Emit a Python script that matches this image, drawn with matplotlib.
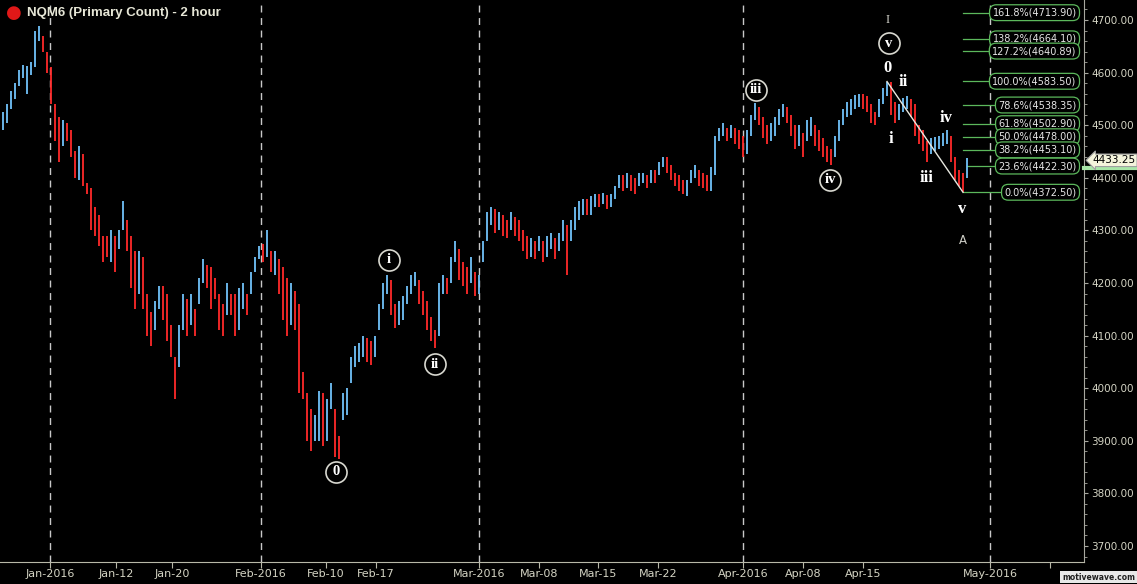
import numpy as np
import matplotlib
matplotlib.use("Agg")
import matplotlib.pyplot as plt
import matplotlib.transforms as mtransforms
from matplotlib.ticker import MultipleLocator, FuncFormatter

close = [4510, 4525, 4555, 4570, 4595, 4600, 4605, 4615, 4665, 4680,
         4660, 4620, 4560, 4500, 4470, 4495, 4480, 4455, 4430, 4440,
         4420, 4380, 4340, 4330, 4300, 4270, 4265, 4285, 4250, 4290,
         4345, 4300, 4230, 4190, 4240, 4190, 4130, 4120, 4140, 4180,
         4170, 4130, 4090, 4030, 4100, 4150, 4130, 4150, 4120, 4190,
         4225, 4220, 4195, 4190, 4150, 4130, 4170, 4160, 4130, 4150,
         4180, 4160, 4200, 4240, 4260, 4250, 4270, 4230, 4240, 4200,
         4180, 4140, 4170, 4160, 4020, 4000, 3920, 3900, 3930, 3970,
         3925, 3950, 3990, 3900, 3880, 3960, 3990, 4040, 4060, 4070,
         4085, 4075, 4060, 4080, 4140, 4190, 4200, 4160, 4130, 4140,
         4150, 4180, 4200, 4210, 4175, 4160, 4130, 4110, 4085, 4180,
         4200, 4195, 4230, 4270, 4230, 4220, 4200, 4230, 4190, 4200,
         4260, 4320, 4330, 4310, 4320, 4310, 4300, 4320, 4305, 4295,
         4280, 4260, 4270, 4260, 4275, 4250, 4270, 4280, 4260, 4280,
         4300, 4250, 4300, 4330, 4340, 4345, 4340, 4345, 4360, 4355,
         4365, 4350, 4360, 4375, 4395, 4385, 4395, 4390, 4380, 4395,
         4400, 4390, 4405, 4400, 4420, 4430, 4425, 4410, 4395, 4390,
         4380, 4385, 4405, 4410, 4400, 4395, 4390, 4410, 4470, 4485,
         4495, 4480, 4490, 4480, 4470, 4460, 4470, 4510, 4530, 4520,
         4490, 4480, 4490, 4500, 4520, 4530, 4525, 4500, 4470, 4480,
         4460, 4490, 4505, 4480, 4470, 4455, 4445, 4435, 4470, 4500,
         4520, 4530, 4540, 4545, 4550, 4545, 4540, 4520, 4510, 4540,
         4560, 4575, 4540, 4520, 4530, 4540, 4545, 4530, 4520, 4480,
         4465, 4445, 4460, 4465, 4470, 4475, 4480, 4450, 4410, 4400,
         4380, 4433.25]
high = [4525, 4540, 4565, 4580, 4605, 4615, 4612, 4620, 4680, 4689,
        4670, 4640, 4610, 4540, 4515, 4510, 4505, 4490, 4450, 4460,
        4445, 4390, 4380, 4345, 4330, 4290, 4290, 4300, 4290, 4300,
        4355, 4320, 4290, 4260, 4260, 4250, 4180, 4145, 4165, 4195,
        4195, 4180, 4120, 4060, 4120, 4180, 4170, 4180, 4150, 4210,
        4245, 4235, 4230, 4210, 4180, 4160, 4200, 4180, 4180, 4190,
        4200, 4180, 4220, 4250, 4270, 4275, 4300, 4260, 4260, 4245,
        4230, 4210, 4200, 4185, 4160, 4030, 3990, 3960, 3950, 3995,
        3990, 3980, 4010, 3960, 3910, 3990, 4000, 4060, 4080, 4085,
        4100, 4095, 4090, 4100, 4160, 4200, 4215, 4205, 4160, 4165,
        4175, 4195, 4215, 4220, 4205, 4185, 4165, 4135, 4110, 4200,
        4215, 4210, 4250, 4280, 4265, 4240, 4230, 4250, 4220, 4215,
        4280, 4335, 4345, 4340, 4335, 4330, 4320, 4335, 4325, 4320,
        4300, 4290, 4285, 4280, 4290, 4280, 4290, 4295, 4285, 4295,
        4320, 4310, 4320, 4345, 4355, 4360, 4360, 4365, 4370, 4370,
        4372, 4368, 4370, 4385, 4405, 4405, 4410, 4405, 4400, 4410,
        4410, 4405, 4415, 4415, 4430, 4440, 4440, 4425, 4410, 4405,
        4395, 4395, 4415, 4425, 4415, 4410, 4405, 4420, 4480, 4495,
        4505, 4495, 4500, 4495, 4490, 4480, 4490, 4520, 4542, 4535,
        4515, 4500, 4505, 4515, 4530, 4540, 4535, 4520, 4500, 4500,
        4485, 4510, 4515, 4500, 4490, 4475, 4460, 4455, 4480, 4510,
        4530, 4545, 4550, 4558, 4560, 4560, 4555, 4540, 4525, 4550,
        4570, 4583, 4583, 4545, 4540, 4552, 4555, 4550, 4540, 4500,
        4490, 4470, 4475, 4478, 4480, 4485, 4490, 4480, 4440, 4415,
        4410, 4438]
low = [4490, 4505, 4530, 4550, 4575, 4590, 4560, 4595, 4610, 4660,
       4640, 4600, 4540, 4470, 4430, 4460, 4470, 4440, 4400, 4395,
       4385, 4370, 4300, 4290, 4270, 4240, 4250, 4240, 4220, 4265,
       4300, 4260, 4190, 4150, 4180, 4150, 4100, 4080, 4110, 4150,
       4130, 4090, 4060, 3980, 4040, 4110, 4100, 4120, 4100, 4160,
       4200, 4190, 4150, 4170, 4110, 4100, 4140, 4140, 4100, 4110,
       4150, 4140, 4180, 4220, 4245, 4240, 4250, 4220, 4215, 4180,
       4130, 4100, 4120, 4110, 3990, 3980, 3900, 3880, 3900, 3900,
       3890, 3900, 3960, 3870, 3865, 3940, 3950, 4010, 4040, 4050,
       4060, 4050, 4045, 4060, 4110, 4150, 4180, 4140, 4115, 4120,
       4130, 4160, 4180, 4195, 4160, 4140, 4110, 4090, 4077, 4100,
       4180, 4180, 4200, 4240, 4205, 4195, 4180, 4200, 4175, 4180,
       4240, 4280, 4310, 4295, 4300, 4290, 4285, 4300, 4290, 4280,
       4260, 4245, 4250, 4245, 4260, 4240, 4250, 4265, 4245, 4260,
       4280, 4215, 4280, 4300, 4320, 4330, 4330, 4330, 4345, 4345,
       4350, 4340, 4345, 4360, 4380, 4375, 4380, 4375, 4370, 4385,
       4390, 4380, 4390, 4390, 4405, 4420, 4410, 4395, 4385, 4375,
       4370, 4365, 4390, 4400, 4385, 4380, 4375, 4375, 4405, 4470,
       4480, 4470, 4475, 4465, 4455, 4440, 4445, 4480, 4510, 4500,
       4475, 4465, 4470, 4480, 4500, 4515, 4505, 4480, 4455, 4460,
       4440, 4470, 4480, 4460, 4450, 4440, 4430, 4424, 4440, 4470,
       4500, 4515, 4520, 4530, 4535, 4530, 4525, 4505, 4500, 4515,
       4540, 4555, 4520, 4505, 4510, 4525, 4530, 4515, 4480, 4465,
       4450, 4430, 4445, 4450, 4455, 4460, 4465, 4430, 4395, 4385,
       4372.5, 4400]

# date axis (bar index units)
tick_pos = [11.75, 28.25, 42.25, 64.5, 80.75, 93.25, 119, 134, 148.75,
            163.75, 185, 200, 215, 246.75, 261.75]
tick_labels = ["Jan-2016", "Jan-12", "Jan-20", "Feb-2016", "Feb-10", "Feb-17",
               "Mar-2016", "Mar-08", "Mar-15", "Mar-22", "Apr-2016", "Apr-08",
               "Apr-15", "May-2016", ""]
month_starts = [11.75, 64.5, 119, 185, 246.75]

# fibonacci retracement levels
fib_pct = ["161.8%", "138.2%", "127.2%", "100.0%", "78.6%", "61.8%",
           "50.0%", "38.2%", "23.6%", "0.0%"]
fib_price = [4713.90, 4664.10, 4640.89, 4583.50, 4538.35, 4502.90,
             4478.00, 4453.10, 4422.30, 4372.50]

# wave labels (text, bar index, price)
circled = [("0", 83.25, 3841), ("i", 96.5, 4244), ("ii", 108, 4046),
           ("iii", 188.25, 4567), ("iv", 206.75, 4396), ("v", 221.5, 4656)]
minor_waves = [("0", 221.25, 4609), ("ii", 225, 4582), ("i", 222, 4474),
               ("iii", 231, 4400), ("iv", 235.75, 4514), ("v", 239.75, 4341)]
last_price = 4433.25

BLUE = "#72c2fa"
RED = "#ff2a2a"
FG = "#d4d4c4"
GREEN = "#5cb85c"

# ==================== figure ====================
fig = plt.figure(figsize=(11.37, 5.84), dpi=100, facecolor="black")
ax = fig.add_axes([0, 22 / 584, 1084 / 1137, 562 / 584], facecolor="black")

n = len(close)
idx = np.arange(n)
c = np.array(close, dtype=float)
o = np.concatenate([[c[0]], c[:-1]])
h = np.array(high, dtype=float)
l = np.array(low, dtype=float)
cols = np.where(c >= o, BLUE, RED)

ax.vlines(idx, l, h, colors=cols, linewidth=1.3, zorder=3)

# month separators
for m in month_starts:
    ax.axvline(m, color="#c8c8c8", lw=1, ls=(0, (5, 4)), zorder=1)

# wave line from top to bottom of the last decline
pk = 200 + int(np.argmax(h[200:]))
tr = pk + int(np.argmin(l[pk:]))
ax.plot([pk, tr], [h[pk], l[tr]], color="#e8e8e0", lw=1, zorder=4)

# fib levels
for pct, pr in zip(fib_pct, fib_price):
    start = tr + 1 if pct == "23.6%" else tr
    ax.plot([start, 266], [pr, pr], color=GREEN, lw=0.9, zorder=2)
    ax.text(268.4, pr, f"{pct}({pr:.2f})", ha="right", va="center",
            fontsize=7, color="#e6e6e6", zorder=6,
            bbox=dict(boxstyle="round,pad=0.3,rounding_size=0.7",
                      fc="black", ec=GREEN, lw=0.9))

# circled wave labels
for txt, xi, yi in circled:
    ax.scatter([xi], [yi], s=230, facecolor="black", edgecolor="#d8d8d0",
               linewidth=1.2, zorder=7)
    ax.text(xi, yi, txt, ha="center", va="center", fontsize=10.5,
            family="Liberation Serif", weight="bold", color="white", zorder=8)

for txt, xi, yi in minor_waves:
    ax.text(xi, yi, txt, ha="center", va="center", fontsize=12,
            family="Liberation Serif", weight="bold", color="white", zorder=8)

ax.text(221.25, 4700, "I", ha="center", va="center", fontsize=9,
        family="Liberation Serif", color="#d8d8d0")
ax.text(240, 4280, "A", ha="center", va="center", fontsize=8.5,
        color="#d0d0c8")

# axes formatting
ax.set_xlim(-0.75, 270.25)
ax.set_ylim(3669.6, 4738)

for s in ["top", "left"]:
    ax.spines[s].set_visible(False)
ax.spines["bottom"].set_color("#b8b8a8")
ax.spines["right"].set_color("#a8a8a0")

ax.set_xticks(tick_pos)
ax.set_xticklabels(tick_labels)
ax.tick_params(axis="x", colors="#b8b8a8", labelcolor=FG, labelsize=8,
               length=4, pad=1)

ax.yaxis.tick_right()
ax.yaxis.set_major_locator(MultipleLocator(100))
ax.yaxis.set_minor_locator(MultipleLocator(20))
ax.yaxis.set_major_formatter(FuncFormatter(lambda v, p: f"{v:.2f}"))
ax.tick_params(axis="y", which="major", colors="#a8a8a0", labelcolor=FG,
               labelsize=7.5, length=3, pad=2)
ax.tick_params(axis="y", which="minor", colors="#a8a8a0", length=2.5)

# last price tag on the price axis
trans = mtransforms.blended_transform_factory(ax.transAxes, ax.transData)
ax.plot([1.0, 1.05], [fib_price[8] - 4, fib_price[8] - 4], transform=trans,
        color="#a8e6a8", lw=3, clip_on=False, zorder=5)
ax.text(1.008, last_price, f"{last_price:.2f}", transform=trans, ha="left",
        va="center", fontsize=7.5, color="black", clip_on=False, zorder=9,
        bbox=dict(boxstyle="larrow,pad=0.12", fc="#f4f4dc", ec="#a0a0a0",
                  lw=0.8))

# title
fig.text(14 / 1137, 1 - 13 / 584, "\u25CF", color="#e01818", fontsize=13,
         ha="center", va="center")
fig.text(27 / 1137, 1 - 13 / 584, "NQM6 (Primary Count) - 2 hour",
         color="#e6e6d6", fontsize=9.5, weight="bold",
         family="Liberation Sans", ha="left", va="center")

# watermark
fig.text(1 - 2 / 1137, 7 / 584, "motivewave.com", color="#202020",
         fontsize=5.5, weight="bold", ha="right", va="center",
         bbox=dict(boxstyle="square,pad=0.2", fc="#e8e8e8", ec="none"))

fig.savefig("out.png", dpi=100, facecolor="black")
